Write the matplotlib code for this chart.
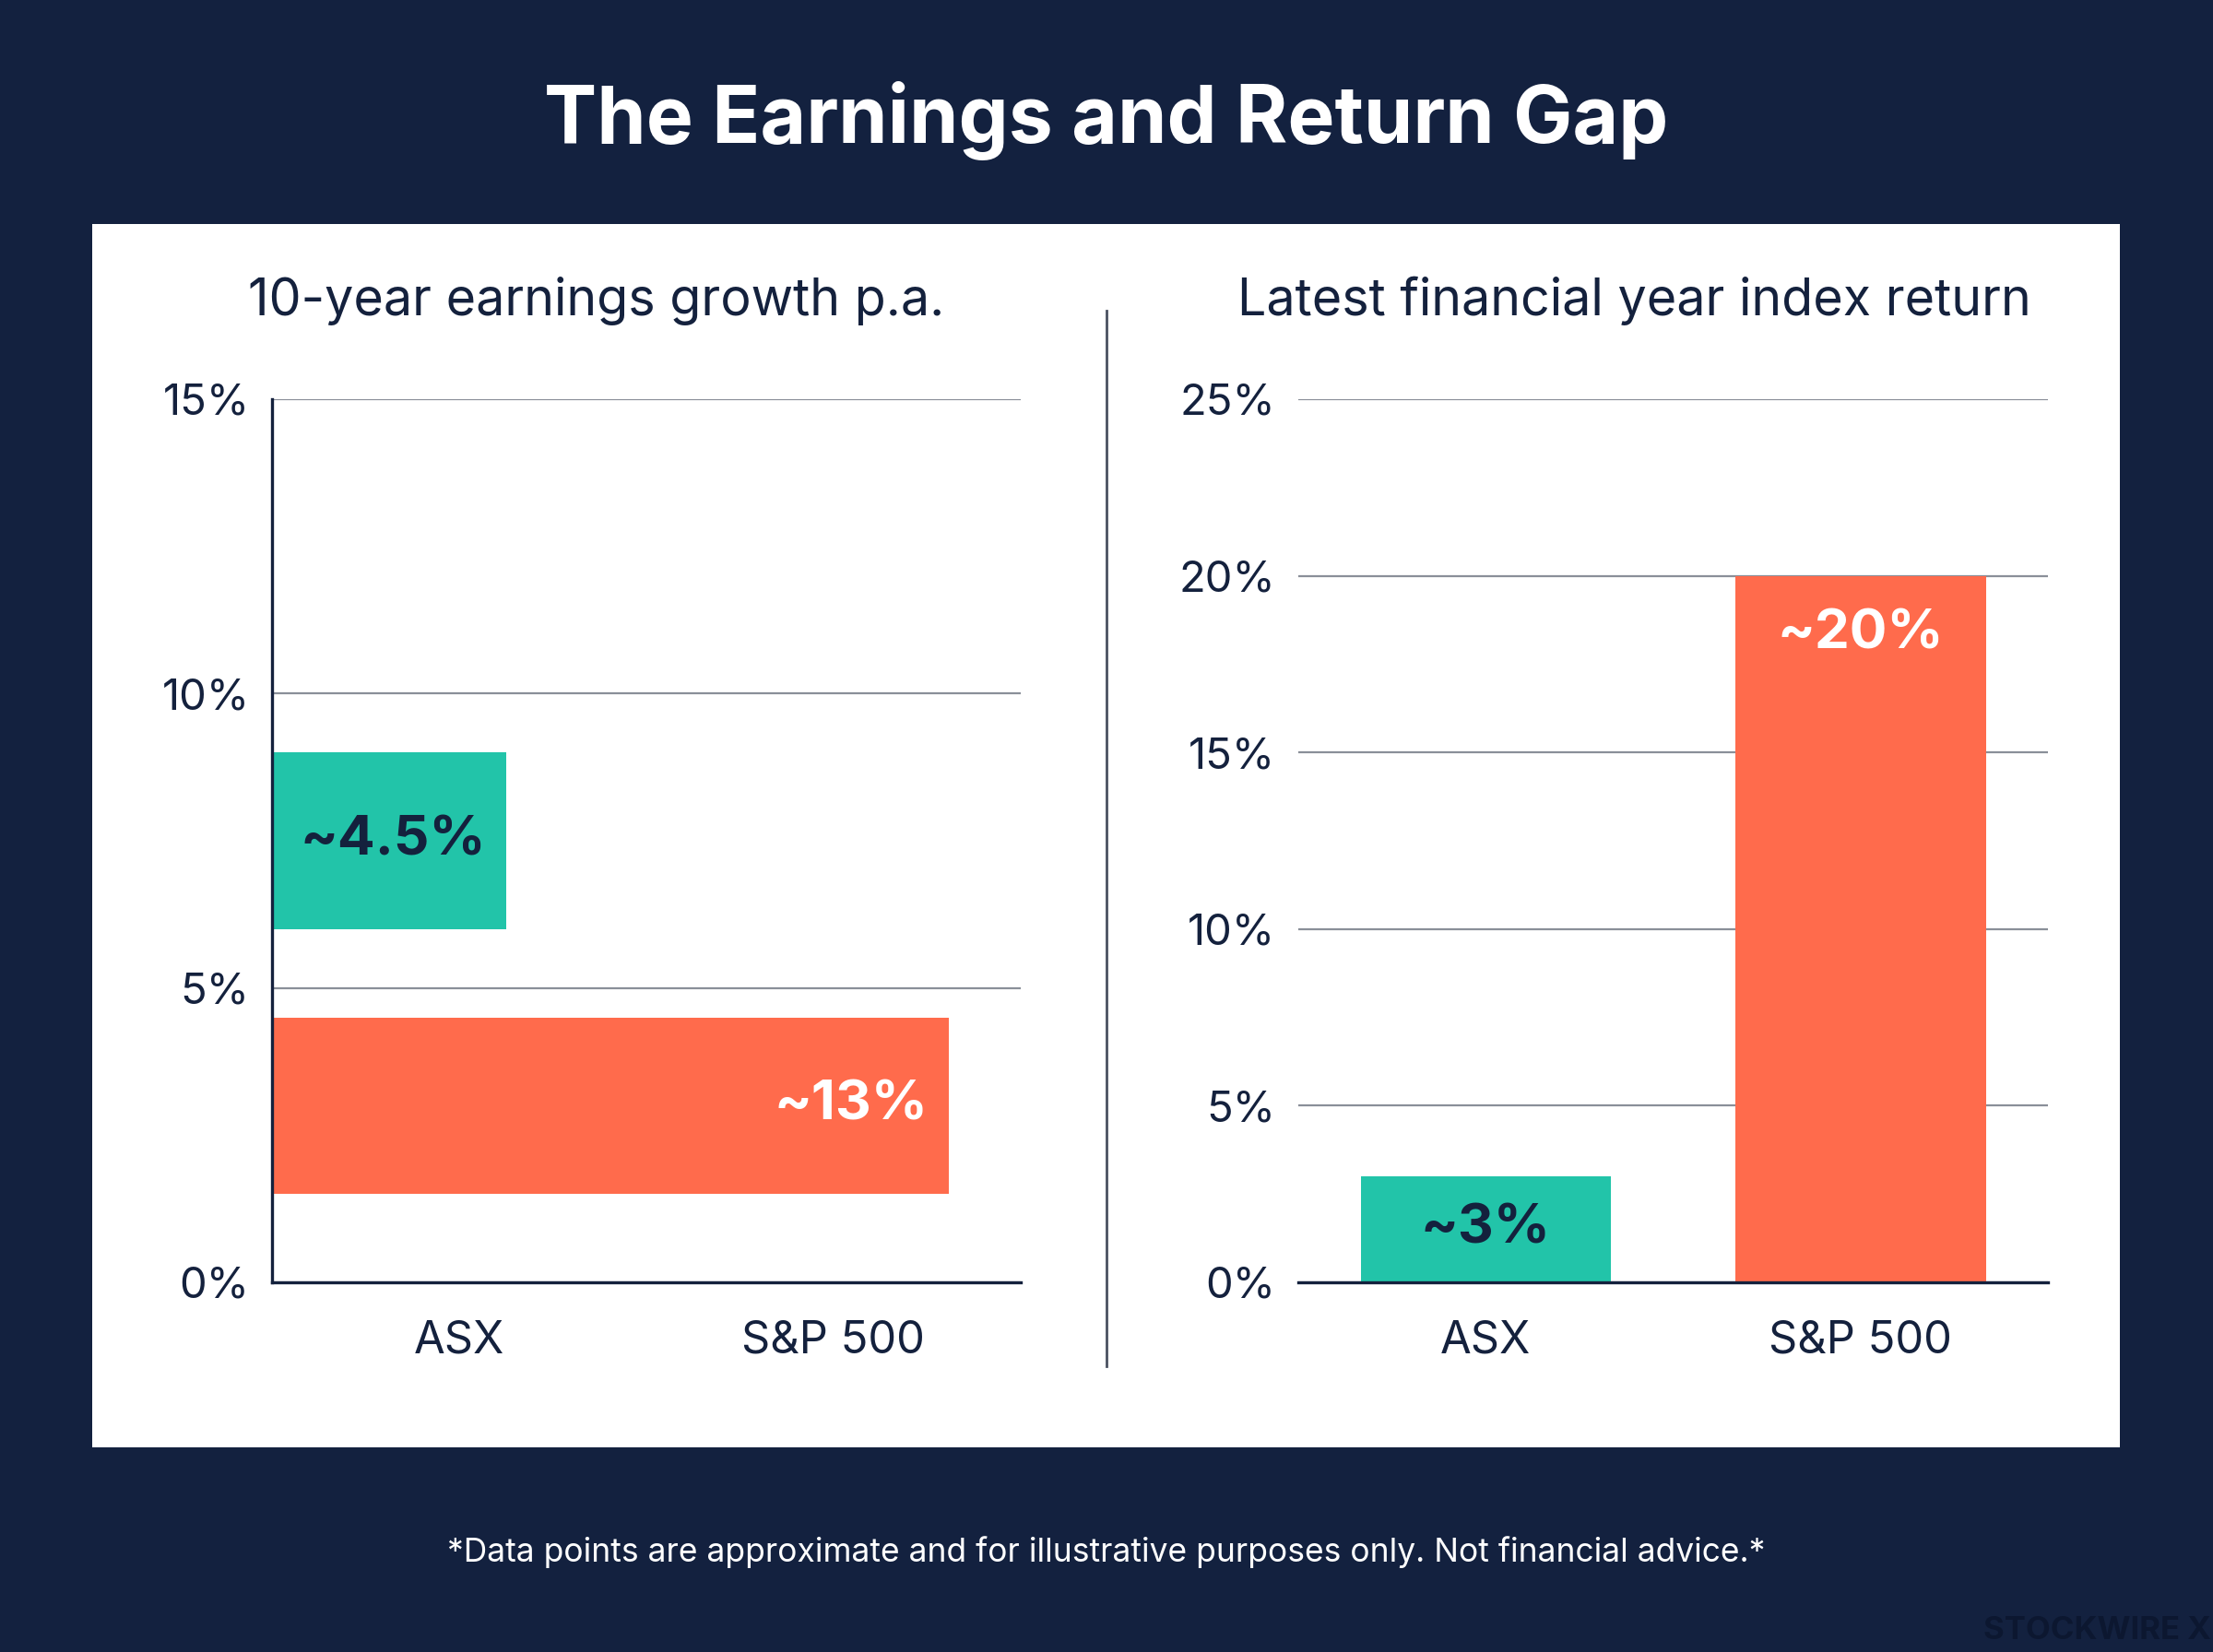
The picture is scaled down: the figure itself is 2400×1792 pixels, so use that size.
import matplotlib
matplotlib.use("Agg")
import matplotlib.pyplot as plt
from matplotlib.patches import Rectangle
from matplotlib.lines import Line2D

# ---- data ----
categories = ["ASX", "S&P 500"]
earnings_growth = [4.5, 13]          # 10-year earnings growth p.a. (%)
earnings_labels = ["~4.5%", "~13%"]
index_return = [3, 20]               # latest financial year index return (%)
return_labels = ["~3%", "~20%"]
left_ticks = [0, 5, 10, 15]
right_ticks = [0, 5, 10, 15, 20, 25]

# ---- styles ----
BG = "#13213f"
NAVY = "#14213d"
TEAL = "#22c4a9"
CORAL = "#ff6b4c"
GRID = "#8a8f99"
FONT = ["Inter", "DejaVu Sans"]
plt.rcParams["font.family"] = FONT

fig = plt.figure(figsize=(12, 8.96), dpi=200, facecolor=BG)

# white panel
fig.add_artist(Rectangle((0.0415, 0.1239), 0.9165, 0.7405, transform=fig.transFigure,
                         facecolor="white", edgecolor="none", zorder=-10))

fig.text(0.5, 0.927, "The Earnings and Return Gap", ha="center", va="center",
         color="white", fontsize=30.9, fontweight="bold")
fig.text(0.2696, 0.8178, "10-year earnings growth p.a.", ha="center", va="center",
         color=NAVY, fontsize=20)
fig.text(0.7383, 0.8178, "Latest financial year index return", ha="center", va="center",
         color=NAVY, fontsize=20)
fig.add_artist(Line2D([0.5, 0.5], [0.173, 0.812], transform=fig.transFigure,
                      color="#4a5060", linewidth=1.0))

fig.text(0.5, 0.0604,
         "*Data points are approximate and for illustrative purposes only. Not financial advice.*",
         ha="center", va="center", color="white", fontsize=12.75)
fig.text(0.999, 0.0128, "STOCKWIRE X", ha="right", va="center", color="#0c1730",
         fontsize=12.5, fontweight="bold")


def style_axis(ax, ticks):
    ax.set_facecolor("none")
    ax.set_yticks(ticks)
    ax.set_yticklabels([f"{t}%" for t in ticks])
    ax.tick_params(axis="both", length=0, colors=NAVY)
    ax.tick_params(axis="y", pad=9, labelsize=17)
    ax.tick_params(axis="x", pad=14.5, labelsize=17.6)
    ax.grid(axis="y", color=GRID, linewidth=0.8, zorder=0)
    ax.set_axisbelow(True)
    for s in ["top", "right"]:
        ax.spines[s].set_visible(False)
    ax.spines["bottom"].set_color(NAVY)
    ax.spines["bottom"].set_linewidth(1.2)
    ax.spines["left"].set_color(NAVY)
    ax.spines["left"].set_linewidth(1.2)


# ---- left chart: horizontal bars ----
axL = fig.add_axes([0.1231, 0.2238, 0.338, 0.5346])
left_ypos = [7.5, 3.0]
left_xmax = 14.38
axL.barh(left_ypos, earnings_growth, height=3, color=[TEAL, CORAL], zorder=2)
axL.set_ylim(0, 15)
axL.set_xlim(0, left_xmax)
axL.set_xticks([0.25 * left_xmax, 0.75 * left_xmax])
axL.set_xticklabels(categories)
style_axis(axL, left_ticks)
for v, y, lab, c in zip(earnings_growth, left_ypos, earnings_labels, [NAVY, "white"]):
    axL.annotate(lab, (v, y), xytext=(-8, 0), textcoords="offset points",
                 ha="right", va="center", color=c, fontsize=21.7, fontweight="bold", zorder=3)

# ---- right chart: vertical bars ----
axR = fig.add_axes([0.5867, 0.2238, 0.3388, 0.5346])
xpos = [0, 1]
axR.bar(xpos, index_return, width=0.667, color=[TEAL, CORAL], zorder=2)
axR.set_xlim(-0.5, 1.5)
axR.set_ylim(0, 25)
axR.set_xticks(xpos)
axR.set_xticklabels(categories)
style_axis(axR, right_ticks)
axR.spines["left"].set_visible(False)
axR.annotate(return_labels[0], (xpos[0], index_return[0] / 2), ha="center", va="center",
             color=NAVY, fontsize=21.7, fontweight="bold", zorder=3)
axR.annotate(return_labels[1], (xpos[1], index_return[1]), xytext=(0, -23),
             textcoords="offset points", ha="center", va="center",
             color="white", fontsize=21.7, fontweight="bold", zorder=3)

fig.savefig("out.png", dpi=200, facecolor=BG)
